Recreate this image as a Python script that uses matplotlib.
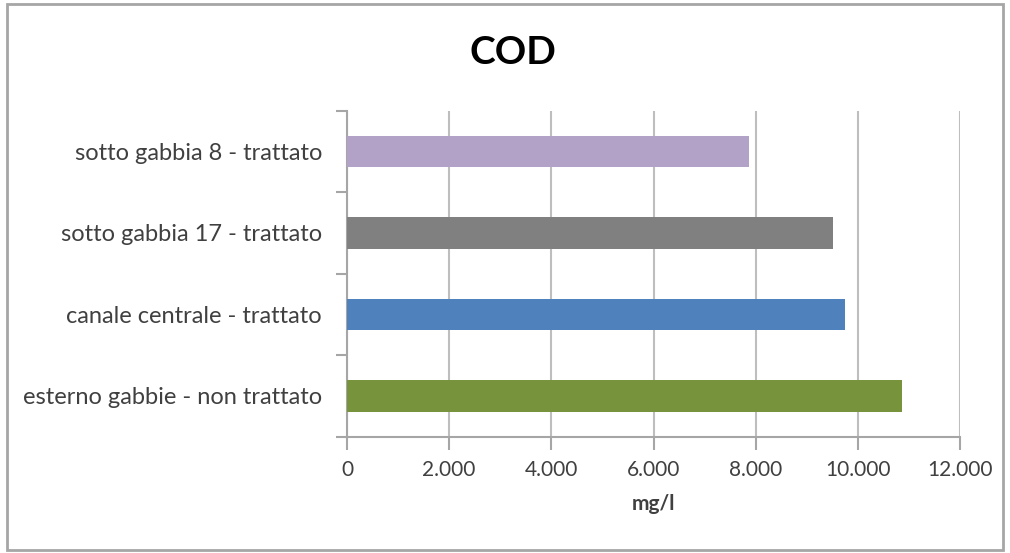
import numpy as np
import matplotlib.pyplot as plt
from matplotlib.patches import Rectangle
from matplotlib.ticker import FuncFormatter

plt.rcParams['font.family'] = ['Lato', 'DejaVu Sans']

# COD per punto di prelievo (mg/l), dal basso verso l'alto
categorie = ['esterno gabbie - non trattato', 'canale centrale - trattato',
             'sotto gabbia 17 - trattato', 'sotto gabbia 8 - trattato']
valori = [10870, 9750, 9520, 7860]
colori = ['#77933C', '#4F81BD', '#808080', '#B3A2C7']
xticks = [0, 2000, 4000, 6000, 8000, 10000, 12000]

W, H = 1010, 553
fig = plt.figure(figsize=(W / 100, H / 100), dpi=100)
ax = fig.add_axes([347 / W, 1 - 436.7 / H, (960 - 347) / W, (436.7 - 110.7) / H])

y = np.arange(len(categorie))
ax.barh(y, valori, height=0.39, color=colori, zorder=3)

ax.set_xlim(0, 12000)
ax.set_ylim(-0.5, len(categorie) - 0.5)
ax.set_xticks(xticks)
ax.xaxis.set_major_formatter(FuncFormatter(lambda v, p: f'{int(v):,}'.replace(',', '.')))
ax.set_yticks(np.arange(-0.5, len(categorie), 1.0))
ax.set_yticklabels([])
ax.set_yticks(y, minor=True)
ax.set_yticklabels(categorie, minor=True)

ax.grid(axis='x', color='#BEBEBE', linewidth=1.5, zorder=0)
for s in ['top', 'right']:
    ax.spines[s].set_visible(False)
for s in ['left', 'bottom']:
    ax.spines[s].set_color('#A6A6A6')
    ax.spines[s].set_linewidth(1.5)

ax.tick_params(axis='x', which='major', direction='out', length=9, width=1.5,
               color='#A6A6A6', labelsize=15, labelcolor='#404040', pad=8)
ax.tick_params(axis='y', which='major', direction='out', length=8, width=1.5,
               color='#A6A6A6')
ax.tick_params(axis='y', which='minor', length=0, labelsize=17,
               labelcolor='#404040', pad=18)

ax.set_xlabel('mg/l', fontsize=15, fontweight='bold', color='#404040', labelpad=10)
fig.text(513 / W, 1 - 53 / H, 'COD', ha='center', va='center',
         fontsize=28, fontweight='bold', color='black')

fig.patches.append(Rectangle((7 / W, 1 - 550 / H), 996 / W, 546 / H,
                             transform=fig.transFigure, fill=False,
                             edgecolor='#A6A6A6', linewidth=2))

fig.savefig('out.png', dpi=100)
